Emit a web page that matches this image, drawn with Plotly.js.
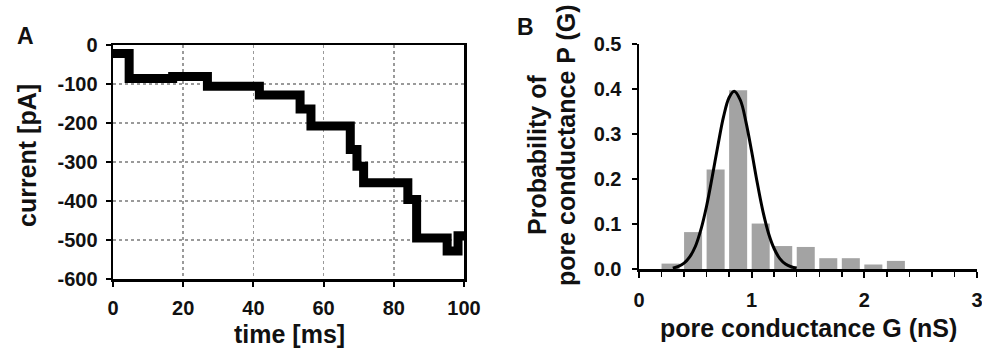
<!DOCTYPE html>
<html>
<head>
<meta charset="utf-8">
<script src="https://cdn.plot.ly/plotly-3.0.1.min.js"></script>
<style>html,body{margin:0;padding:0;background:#fff;}#chart{width:982px;height:349px;}</style>
</head>
<body>
<div id="chart"></div>
<script>
// Panel A: stepwise current trace (time in ms, current in pA)
const stepTimes = [0, 4.6, 17, 26.9, 41.7, 53.3, 56.4, 67.6, 69.5, 71.4, 84.0, 86.5, 95.2, 98.3, 100];
const stepCurrent = [-22, -86, -81, -106, -128, -164, -208, -268, -311, -353, -396, -495, -528, -489, -489];
const aXTicks = [0, 20, 40, 60, 80, 100];
const aYTicks = [-600, -500, -400, -300, -200, -100, 0];
const aYLabels = ['-600', '-500', '-400', '-300', '-200', '-100', '0'];

// Panel B: histogram of pore conductance
const binStarts = [0.2, 0.4, 0.6, 0.8, 1.0, 1.2, 1.4, 1.6, 1.8, 2.0, 2.2];
const binProb = [0.012, 0.082, 0.221, 0.397, 0.101, 0.051, 0.049, 0.024, 0.024, 0.010, 0.018];
const bXTicks = [0, 1, 2, 3];
const bYTicks = [0, 0.1, 0.2, 0.3, 0.4, 0.5];

// Panel B: fitted curve
const fitG = [0.30, 0.35, 0.40, 0.45, 0.50, 0.55, 0.60, 0.65, 0.70, 0.75, 0.80, 0.845, 0.90, 0.95, 1.00, 1.05, 1.10, 1.15, 1.20, 1.25, 1.30, 1.35, 1.40];
const fitP = [0.002, 0.006, 0.013, 0.027, 0.050, 0.088, 0.140, 0.205, 0.274, 0.338, 0.381, 0.395, 0.375, 0.326, 0.261, 0.191, 0.128, 0.079, 0.045, 0.023, 0.011, 0.005, 0.002];

const W = 982, H = 349;
const px = v => v / W;
const py = v => 1 - v / H;

const FAM = 'Liberation Sans, Arial, sans-serif';
const tickFont = {family: FAM, size: 20, color: '#111', weight: 700};
const titleFont = {family: FAM, size: 25, color: '#111', weight: 700};

const traces = [
  {x: stepTimes, y: stepCurrent, type: 'scatter', mode: 'lines', line: {shape: 'hv', color: '#000', width: 9},
   xaxis: 'x', yaxis: 'y', hoverinfo: 'skip'},
  {x: binStarts, y: binProb, type: 'bar', offset: 0, width: 0.16, marker: {color: '#a3a3a3'},
   xaxis: 'x2', yaxis: 'y2', hoverinfo: 'skip'},
  {x: fitG, y: fitP, type: 'scatter', mode: 'lines', line: {shape: 'spline', color: '#000', width: 3},
   xaxis: 'x2', yaxis: 'y2', hoverinfo: 'skip'}
];

const layout = {
  width: W, height: H,
  margin: {l: 0, r: 0, t: 0, b: 0},
  paper_bgcolor: '#fff', plot_bgcolor: '#fff',
  showlegend: false,
  xaxis: {
    domain: [px(113), px(464)], range: [0, 100], anchor: 'y',
    tickvals: aXTicks, ticktext: aXTicks.map(v => '<b>' + v + '</b>'),
    ticks: 'outside', ticklen: 5, tickwidth: 2, tickcolor: '#000',
    showline: true, linecolor: '#000', linewidth: 2.5, mirror: true,
    showgrid: true, gridcolor: '#9a9a9a', griddash: 'dot', gridwidth: 1.5,
    zeroline: false, tickfont: tickFont, ticklabelstandoff: 4, ticklabeloverflow: 'allow'
  },
  yaxis: {
    domain: [py(279), py(45)], range: [-600, 0], anchor: 'x',
    tickvals: aYTicks, ticktext: aYLabels.map(v => '<b>' + v + '</b>'),
    ticks: 'outside', ticklen: 5, tickwidth: 2, tickcolor: '#000',
    showline: true, linecolor: '#000', linewidth: 2.5, mirror: true,
    showgrid: true, gridcolor: '#9a9a9a', griddash: 'dot', gridwidth: 1.5,
    zeroline: false, tickfont: tickFont, ticklabelstandoff: 4
  },
  xaxis2: {
    domain: [px(639), px(977)], range: [0, 3], anchor: 'y2',
    tickvals: bXTicks, ticktext: bXTicks.map(v => '<b>' + v + '</b>'),
    ticks: 'outside', ticklen: 6, tickwidth: 2, tickcolor: '#000',
    minor: {dtick: 0.2, tick0: 0, ticks: 'outside', ticklen: 5, tickwidth: 1.5, tickcolor: '#000', showgrid: false},
    showline: true, linecolor: '#000', linewidth: 2.5,
    showgrid: false, zeroline: false, tickfont: tickFont, ticklabelstandoff: 5, ticklabeloverflow: 'allow'
  },
  yaxis2: {
    domain: [py(269), py(44)], range: [0, 0.5], anchor: 'x2',
    tickvals: bYTicks, ticktext: bYTicks.map(v => '<b>' + v.toFixed(1) + '</b>'),
    ticks: 'outside', ticklen: 5, tickwidth: 2, tickcolor: '#000',
    showline: true, linecolor: '#000', linewidth: 2.5,
    showgrid: false, zeroline: false, tickfont: tickFont, ticklabelstandoff: 6
  },
  annotations: [
    {text: '<b>A</b>', xref: 'paper', yref: 'paper', x: px(25), y: py(36), xanchor: 'center', yanchor: 'middle', showarrow: false,
     font: {family: FAM, size: 23, color: '#111', weight: 700}},
    {text: '<b>B</b>', xref: 'paper', yref: 'paper', x: px(525), y: py(27), xanchor: 'center', yanchor: 'middle', showarrow: false,
     font: {family: FAM, size: 23, color: '#111', weight: 700}},
    {text: '<b>current [pA]</b>', xref: 'paper', yref: 'paper', x: px(27), y: py(156), xanchor: 'center', yanchor: 'middle', showarrow: false,
     textangle: -90, font: titleFont},
    {text: '<b>time [ms]</b>', xref: 'paper', yref: 'paper', x: px(289), y: py(334), xanchor: 'center', yanchor: 'middle', showarrow: false,
     font: titleFont},
    {text: '<b>pore conductance G (nS)</b>', xref: 'paper', yref: 'paper', x: px(808), y: py(328), xanchor: 'center', yanchor: 'middle', showarrow: false,
     font: titleFont},
    {text: '<b>Probability of</b>', xref: 'paper', yref: 'paper', x: px(537), y: py(155), xanchor: 'center', yanchor: 'middle', showarrow: false,
     textangle: -90, font: titleFont},
    {text: '<b>pore conductance P (G)</b>', xref: 'paper', yref: 'paper', x: px(566), y: py(145), xanchor: 'center', yanchor: 'middle', showarrow: false,
     textangle: -90, font: titleFont}
  ]
};

Plotly.newPlot('chart', traces, layout, {staticPlot: true, displayModeBar: false});
</script>
</body>
</html>
